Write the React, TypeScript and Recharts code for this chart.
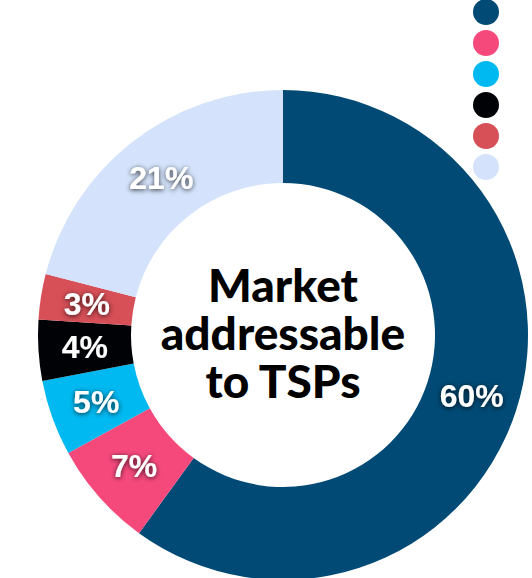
import { Cell, Legend, Pie, PieChart } from "recharts";

const segmentNames = ["Segment A", "Segment B", "Segment C", "Segment D", "Segment E", "Segment F"];
const segmentValues = [60, 7, 5, 4, 3, 21];
const segmentColors = ["#004a75", "#f5497c", "#00b9f1", "#000206", "#d74f57", "#d4e3fb"];
const centerLines = ["Market", "addressable", "to TSPs"];

const data = segmentNames.map((name, i) => ({ name, value: segmentValues[i] }));

const CX = 283;
const CY = 335;
const RAD = Math.PI / 180;

function renderSliceLabel(props: any) {
  const { cx, cy, midAngle, innerRadius, outerRadius, value } = props;
  const r = (innerRadius + outerRadius) / 2;
  const x = cx + r * Math.cos(-midAngle * RAD);
  const y = cy + r * Math.sin(-midAngle * RAD);
  return (
    <text
      x={x}
      y={y}
      fill="#fff"
      textAnchor="middle"
      dominantBaseline="central"
      filter="url(#labelShadow)"
      style={{ fontFamily: "'Liberation Sans', Arial, sans-serif", fontWeight: 700, fontSize: 32 }}
    >
      {`${value}%`}
    </text>
  );
}

function DotLegend({ payload }: any) {
  return (
    <div style={{ display: "flex", flexDirection: "column", gap: 5 }}>
      {(payload || []).map((entry: any) => (
        <span
          key={entry.value}
          style={{ width: 26, height: 26, borderRadius: 13, background: entry.color, display: "block" }}
        />
      ))}
    </div>
  );
}

export default function App() {
  return (
    <div style={{ position: "absolute", left: 0, top: 0, width: 532, height: 578, background: "#fff" }}>
      <PieChart width={532} height={578} margin={{ top: 0, right: 0, bottom: 0, left: 0 }}>
        <defs>
          <filter id="labelShadow" x="-30%" y="-30%" width="160%" height="160%">
            <feDropShadow dx="0" dy="1" stdDeviation="2.5" floodColor="#000" floodOpacity="0.8" />
          </filter>
        </defs>
        <Legend
          layout="vertical"
          align="right"
          verticalAlign="top"
          content={<DotLegend />}
          wrapperStyle={{ left: 473, top: -1, width: 30 }}
        />
        <Pie
          data={data}
          dataKey="value"
          nameKey="name"
          cx={CX}
          cy={CY}
          innerRadius={152}
          outerRadius={245}
          startAngle={90}
          endAngle={-270}
          stroke="none"
          label={renderSliceLabel}
          labelLine={false}
          isAnimationActive={false}
        >
          {data.map((d, i) => (
            <Cell key={d.name} fill={segmentColors[i]} />
          ))}
        </Pie>
        <text
          x={CX}
          textAnchor="middle"
          fill="#000"
          style={{ fontFamily: "Lato, sans-serif", fontWeight: 900, fontSize: 46 }}
        >
          {centerLines.map((line, i) => (
            <tspan key={line} x={CX} y={CY - 33 + i * 48}>
              {line}
            </tspan>
          ))}
        </text>
      </PieChart>
    </div>
  );
}
